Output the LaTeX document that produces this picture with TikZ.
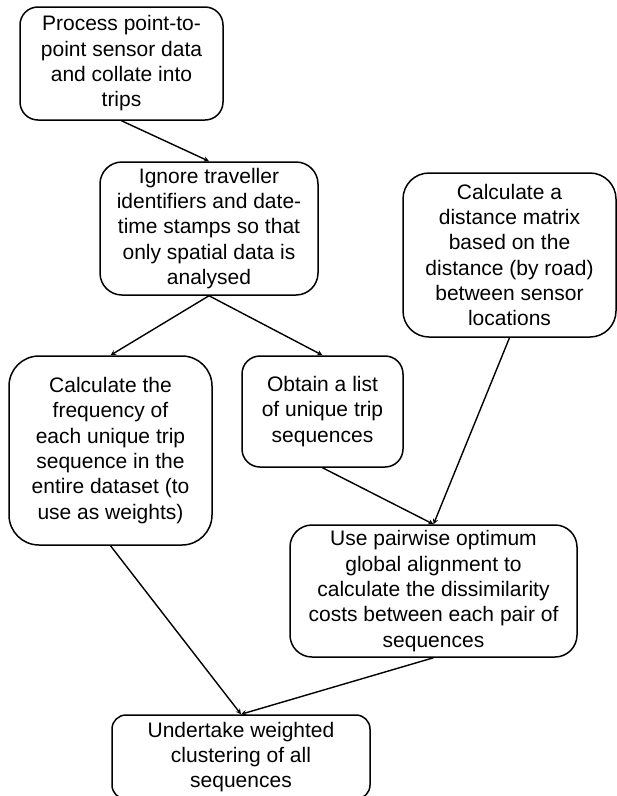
\documentclass[tikz,border=0pt]{standalone}
\usepackage{fontspec}
\setmainfont{Liberation Sans}
\begin{document}
\begin{tikzpicture}[x=1pt, y=-1pt,
  box/.style={draw, rounded corners=18pt, align=center, line width=1.5pt, inner sep=0pt, font=\fontsize{21}{25.3}\selectfont}]
\useasboundingbox (0,0) rectangle (617,796);
\node (proc)[box, minimum width=203pt, minimum height=113pt] at (121.5,63.5) {Process point-to-\\point sensor data\\and collate into\\trips};
\node (ign)[box, minimum width=218pt, minimum height=133pt, rounded corners=22pt] at (209,228.5) {Ignore traveller\\identifiers and date-\\time stamps so that\\only spatial data is\\analysed};
\node (dist)[box, minimum width=213pt, minimum height=164pt, rounded corners=26pt] at (509.5,255) {Calculate a\\distance matrix\\based on the\\distance (by road)\\between sensor\\locations};
\node (freq)[box, minimum width=203pt, minimum height=189pt, rounded corners=30pt] at (110.5,450.5) {Calculate the\\frequency of\\each unique trip\\sequence in the\\entire dataset (to\\use as weights)};
\node (uniq)[box, minimum width=161pt, minimum height=111pt] at (322.5,411.5) {Obtain a list\\of unique trip\\sequences};
\node (align)[box, minimum width=287pt, minimum height=132pt, rounded corners=22pt] at (433.5,591) {Use pairwise optimum\\global alignment to\\calculate the dissimilarity\\costs between each pair of\\sequences};
\node (clust)[box, minimum width=258pt, minimum height=84pt, rounded corners=14pt] at (241,757) {Undertake weighted\\clustering of all\\sequences};
\draw[arrows=-stealth, line width=1.4pt] (proc.south) -- (ign.north);
\draw[arrows=-stealth, line width=1.4pt] (ign.south) -- (freq.north);
\draw[arrows=-stealth, line width=1.4pt] (ign.south) -- (uniq.north);
\draw[arrows=-stealth, line width=1.4pt] (uniq.south) -- (align.north);
\draw[arrows=-stealth, line width=1.4pt] (dist.south) -- (align.north);
\draw[arrows=-stealth, line width=1.4pt] (freq.south) -- (clust.north);
\draw[arrows=-stealth, line width=1.4pt] (align.south) -- (clust.north);
\end{tikzpicture}
\end{document}
